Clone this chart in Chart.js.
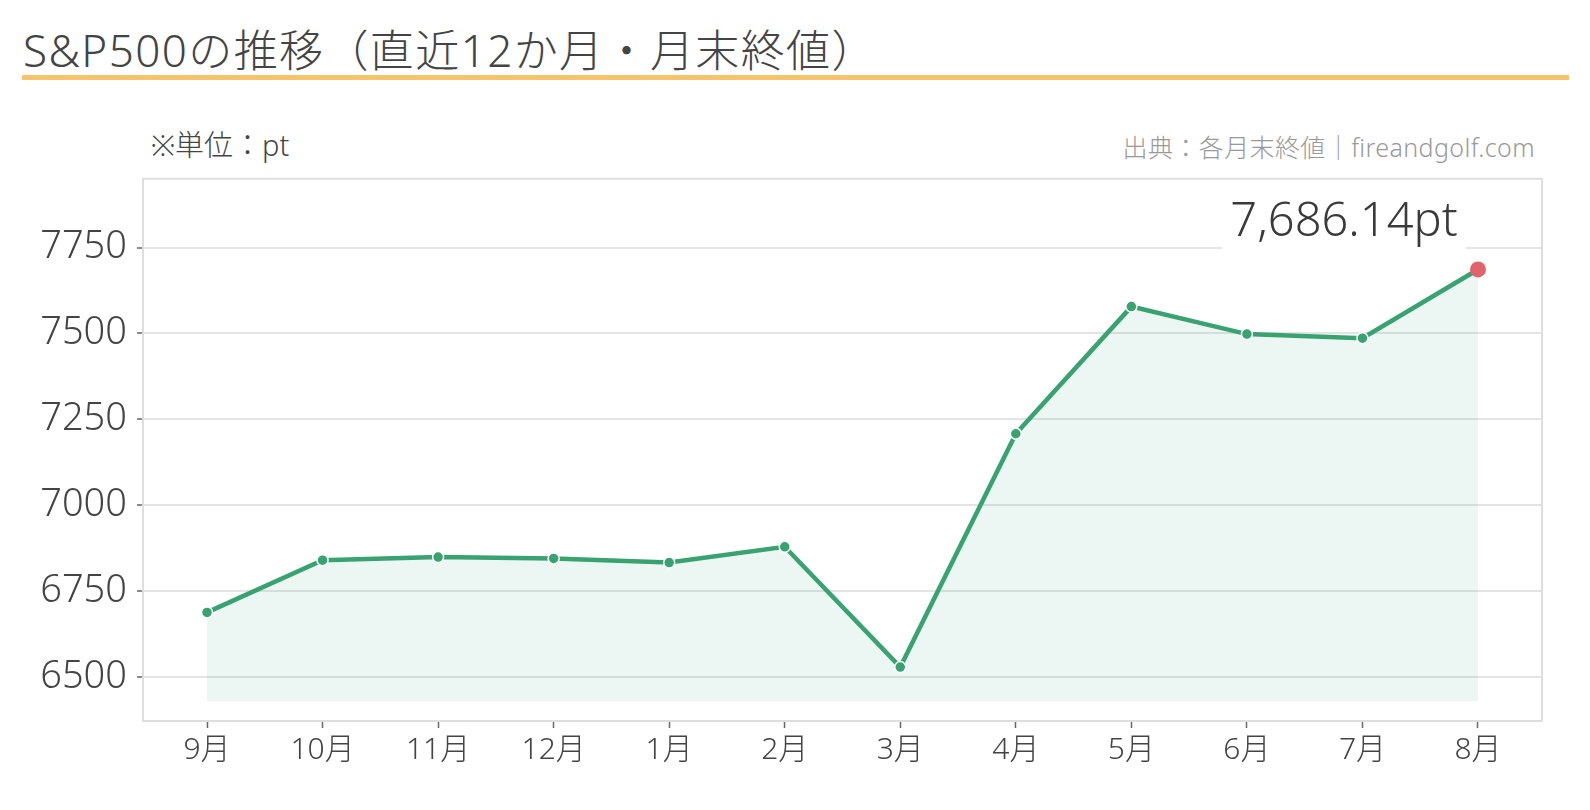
<!DOCTYPE html>
<html lang="ja">
<head>
<meta charset="utf-8">
<script src="https://cdn.jsdelivr.net/npm/chart.js@4.4.1/dist/chart.umd.min.js"></script>
<style>
  body { margin: 0; width: 1590px; height: 810px; background: #fff; position: relative; overflow: hidden;
         font-family: "Noto Sans", "Noto Sans CJK JP", sans-serif; color: #444; }
  #title { position: absolute; left: 23px; top: 24px; font-size: 44px; line-height: 52px; white-space: nowrap; letter-spacing: 1.4px; font-weight: 300; }
  #rule { position: absolute; left: 22px; top: 75px; width: 1547px; height: 5px; background: #F7C46C; }
  #unit { position: absolute; left: 151px; top: 128px; font-size: 29px; line-height: 34px; white-space: nowrap; font-weight: 300; }
  #source { position: absolute; right: 55px; top: 131px; font-size: 25px; line-height: 32px; color: #999; white-space: nowrap; letter-spacing: 0.4px; font-weight: 300; }
  #wrap { position: absolute; left: 0; top: 146px; width: 1590px; height: 664px; }
</style>
</head>
<body>
<div id="title">S&amp;P500の推移（直近12か月・月末終値）</div>
<div id="rule"></div>
<div id="unit">※単位：pt</div>
<div id="source">出典：各月末終値｜fireandgolf.com</div>
<div id="wrap"><canvas id="sp500"></canvas></div>
<script>
// 月末終値（pt）
const months = ['9月', '10月', '11月', '12月', '1月', '2月', '3月', '4月', '5月', '6月', '7月', '8月'];
const closes = [6688, 6840, 6849, 6845, 6833, 6879, 6529, 7208, 7578, 7498, 7486, 7686.14];
const yTicks = [6500, 6750, 7000, 7250, 7500, 7750];
const fillBase = 6430;

const green = '#38A271';
const red = '#E0646A';
const last = closes.length - 1;
const fontFamily = '"Noto Sans", "Noto Sans CJK JP", sans-serif';

// 外枠を描く
const boxPlugin = {
    id: 'box',
    afterDraw(chart) {
        const { ctx, chartArea: a } = chart;
        ctx.save();
        ctx.strokeStyle = '#dedede';
        ctx.lineWidth = 2;
        ctx.strokeRect(a.left, a.top, a.right - a.left, a.bottom - a.top);
        ctx.restore();
    }
};

// 最新値のラベル（白背景でグリッドを隠す）
const lastLabel = {
    id: 'lastLabel',
    afterDatasetsDraw(chart) {
        const { ctx } = chart;
        const pt = chart.getDatasetMeta(0).data[last];
        const text = closes[last].toLocaleString('en-US', { minimumFractionDigits: 2 }) + 'pt';
        const cx = pt.x - 134;
        const base = pt.y - 33;
        ctx.save();
        ctx.font = '300 47px ' + fontFamily;
        const w = ctx.measureText(text).width + 16;
        ctx.fillStyle = '#fff';
        ctx.fillRect(cx - w / 2, base - 46, w, 61);
        ctx.fillStyle = '#3a3a3a';
        ctx.textAlign = 'center';
        ctx.textBaseline = 'alphabetic';
        ctx.fillText(text, cx, base);
        ctx.restore();
    }
};

new Chart(document.getElementById('sp500'), {
    type: 'line',
    data: {
        datasets: [{
            data: closes.map((v, i) => ({ x: i, y: v })),
            borderColor: green,
            borderWidth: 4.5,
            backgroundColor: 'rgba(58,163,114,0.095)',
            fill: { value: fillBase },
            tension: 0,
            pointRadius: closes.map((v, i) => i === last ? 8 : 5.5),
            pointBackgroundColor: closes.map((v, i) => i === last ? red : green),
            pointBorderColor: closes.map((v, i) => i === last ? red : '#fff'),
            pointBorderWidth: closes.map((v, i) => i === last ? 0 : 1.5),
        }]
    },
    options: {
        responsive: true,
        maintainAspectRatio: false,
        animation: false,
        layout: { padding: { top: 0, right: 48, bottom: 0, left: 0 } },
        plugins: {
            legend: { display: false },
            tooltip: { enabled: false },
        },
        scales: {
            x: {
                type: 'linear',
                min: -0.554,
                max: last + 0.554,
                afterBuildTicks: scale => { scale.ticks = months.map((m, i) => ({ value: i })); },
                afterFit: scale => { scale.height = 89; },
                grid: {
                    drawOnChartArea: false,
                    tickLength: 7,
                    tickColor: '#666',
                    tickWidth: 1.5,
                },
                border: { color: '#dedede', width: 2 },
                ticks: {
                    padding: 4,
                    color: '#444',
                    font: { size: 30, family: fontFamily, weight: 300 },
                    callback: value => months[value],
                },
            },
            y: {
                min: 6372,
                max: 7950,
                afterBuildTicks: scale => { scale.ticks = yTicks.map(v => ({ value: v })); },
                afterFit: scale => { scale.width = 143; },
                grid: {
                    color: '#e4e4e4',
                    lineWidth: 2,
                    tickLength: 6,
                    tickColor: '#666',
                    tickWidth: 1.5,
                },
                border: { color: '#dedede', width: 2 },
                ticks: {
                    padding: 10,
                    color: '#444',
                    font: { size: 38, family: fontFamily, weight: 300 },
                    callback: value => String(value),
                },
            },
        },
    },
    plugins: [boxPlugin, lastLabel],
});
</script>
</body>
</html>
